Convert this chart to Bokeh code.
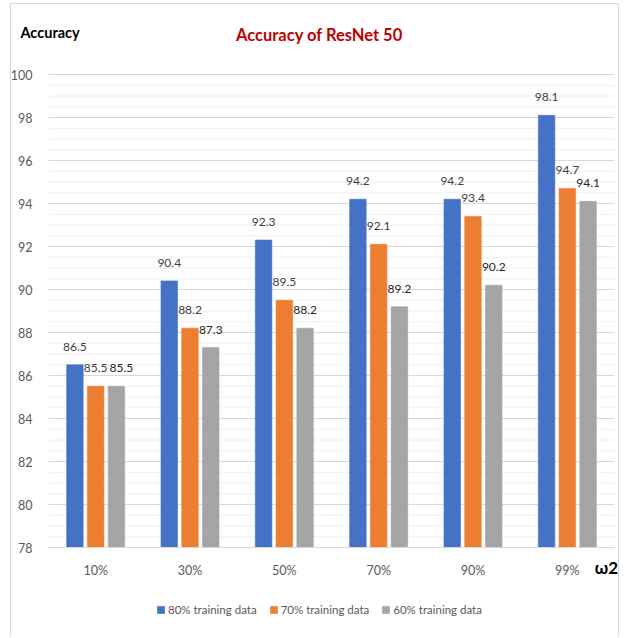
from bokeh.plotting import figure
from bokeh.models import (ColumnDataSource, Range1d, FixedTicker, LabelSet,
                          Label, Legend, LegendItem)
from bokeh.core.properties import value
from bokeh.transform import dodge
from bokeh.embed import file_html
from bokeh.resources import INLINE

# ---- data ----
categories = ["10%", "30%", "50%", "70%", "90%", "99%"]
acc_80 = [86.5, 90.4, 92.3, 94.2, 94.2, 98.1]
acc_70 = [85.5, 88.2, 89.5, 92.1, 93.4, 94.7]
acc_60 = [85.5, 87.3, 88.2, 89.2, 90.2, 94.1]
series_names = ["80% training data", "70% training data", "60% training data"]
y_ticks = [78, 80, 82, 84, 86, 88, 90, 92, 94, 96, 98, 100]

FONT = "Lato"
colors = ["#4472C4", "#ED7D31", "#A5A5A5"]
idx = list(range(len(categories)))

# push a value label sideways when it sits level with its left neighbour
nudge_60 = [5 if abs(a - b) < 0.6 else 0 for a, b in zip(acc_70, acc_60)]

source = ColumnDataSource(dict(
    idx=idx,
    a80=acc_80, a70=acc_70, a60=acc_60,
    t80=[f"{v:.1f}" for v in acc_80],
    t70=[f"{v:.1f}" for v in acc_70],
    t60=[f"{v:.1f}" for v in acc_60],
    n80=[0] * len(idx), n70=[0] * len(idx), n60=nudge_60,
))

W, H = 609, 634
# data area spans x in [-0.5, n-0.5] and y in [78, 100]; the frame is the
# whole canvas so that titles and legend can live inside it
x_lo, x_hi = -0.5, len(categories) - 0.5
px_x = 566 / (x_hi - x_lo)
px_y = 473 / (y_ticks[-1] - y_ticks[0])
x_range = Range1d(x_lo - 37 / px_x, x_hi + 6 / px_x)
y_range = Range1d(y_ticks[0] - 91 / px_y, y_ticks[-1] + 70 / px_y)

p = figure(width=W, height=H, x_range=x_range, y_range=y_range,
           output_backend="svg", toolbar_location=None,
           min_border_left=0, min_border_right=0,
           min_border_top=0, min_border_bottom=0)
p.styles = {"margin-left": "10px", "margin-top": "3px",
            "border-left": "1px solid #d9d9d9",
            "border-right": "1px solid #d9d9d9",
            "border-top": "1px solid #d9d9d9"}
p.outline_line_color = None
p.background_fill_color = "white"
p.border_fill_color = "white"
p.xgrid.grid_line_color = None
p.ygrid.grid_line_color = None

# horizontal gridlines across the data area
minor = [t + d for t in y_ticks[:-1] for d in (0.5, 1.0, 1.5)]
p.segment(x0=x_lo, x1=x_hi, y0=minor, y1=minor, line_color="#f0f0f0",
          line_width=1)
p.segment(x0=x_lo, x1=x_hi, y0=y_ticks, y1=y_ticks, line_color="#d9d9d9",
          line_width=1)

# y axis pinned to the left edge of the data area
yax = p.yaxis[0]
yax.fixed_location = x_lo
yax.bounds = (y_ticks[0], y_ticks[-1])
yax.ticker = FixedTicker(ticks=y_ticks)
yax.axis_line_color = None
yax.major_tick_line_color = None
yax.minor_tick_line_color = None
yax.major_label_text_font = FONT
yax.major_label_text_font_size = "12.5px"
yax.major_label_text_color = "#595959"
yax.major_label_standoff = 10

# x axis pinned to the 78 baseline
xax = p.xaxis[0]
xax.fixed_location = y_ticks[0]
xax.bounds = (x_lo, x_hi)
xax.ticker = FixedTicker(ticks=idx)
xax.major_label_overrides = {i: c for i, c in zip(idx, categories)}
xax.axis_line_color = "#d9d9d9"
xax.major_tick_line_color = None
xax.minor_tick_line_color = None
xax.major_label_text_font = FONT
xax.major_label_text_font_size = "12.5px"
xax.major_label_text_color = "#595959"
xax.major_label_standoff = 9

# bars with value labels
offsets = [-0.22, 0.0, 0.22]
fields = ["a80", "a70", "a60"]
texts = ["t80", "t70", "t60"]
nudges = ["n80", "n70", "n60"]
label_colors = ["#404040", "#404040", "#262626"]
items = []
for off, fld, txt, nd, col, name, lc in zip(offsets, fields, texts, nudges,
                                           colors, series_names, label_colors):
    r = p.vbar(x=dodge("idx", off), top=fld, bottom=y_ticks[0],
               width=0.175, source=source, fill_color=col,
               line_color=col, line_alpha=0.6)
    items.append(LegendItem(label=name, renderers=[r]))
    p.add_layout(LabelSet(x=dodge("idx", off), y=fld, text=txt,
                          source=source, y_offset=18, x_offset=nd,
                          text_align="center", text_baseline="middle",
                          text_font=value(FONT), text_font_size="12px",
                          text_color=lc))

legend = Legend(items=items, orientation="horizontal", location=(145, 22),
                glyph_width=9, glyph_height=9, label_standoff=3, spacing=12,
                padding=0, margin=0, border_line_color=None,
                background_fill_alpha=0, label_text_font=FONT,
                label_text_font_size="11.5px", label_text_color="#595959",
                label_height=12, label_text_baseline="middle")
p.add_layout(legend, "center")

# chart title and axis titles (screen units from the canvas bottom-left)
p.add_layout(Label(x=308, y=604, x_units="screen", y_units="screen",
                   text="Accuracy of ResNet 50", text_align="center",
                   text_baseline="middle", text_font=FONT,
                   text_font_size="16.5px", text_font_style="bold",
                   text_color="#C00000"))
p.add_layout(Label(x=9, y=606, x_units="screen", y_units="screen",
                   text="Accuracy", text_align="left",
                   text_baseline="middle", text_font=FONT,
                   text_font_size="14.5px", text_font_style="bold",
                   text_color="#000000"))
p.add_layout(Label(x=595, y=71, x_units="screen", y_units="screen",
                   text="ω2", text_align="center",
                   text_baseline="middle", text_font=FONT,
                   text_font_size="17px", text_font_style="bold",
                   text_color="#000000"))

open("out.html", "w").write(file_html(p, INLINE))
